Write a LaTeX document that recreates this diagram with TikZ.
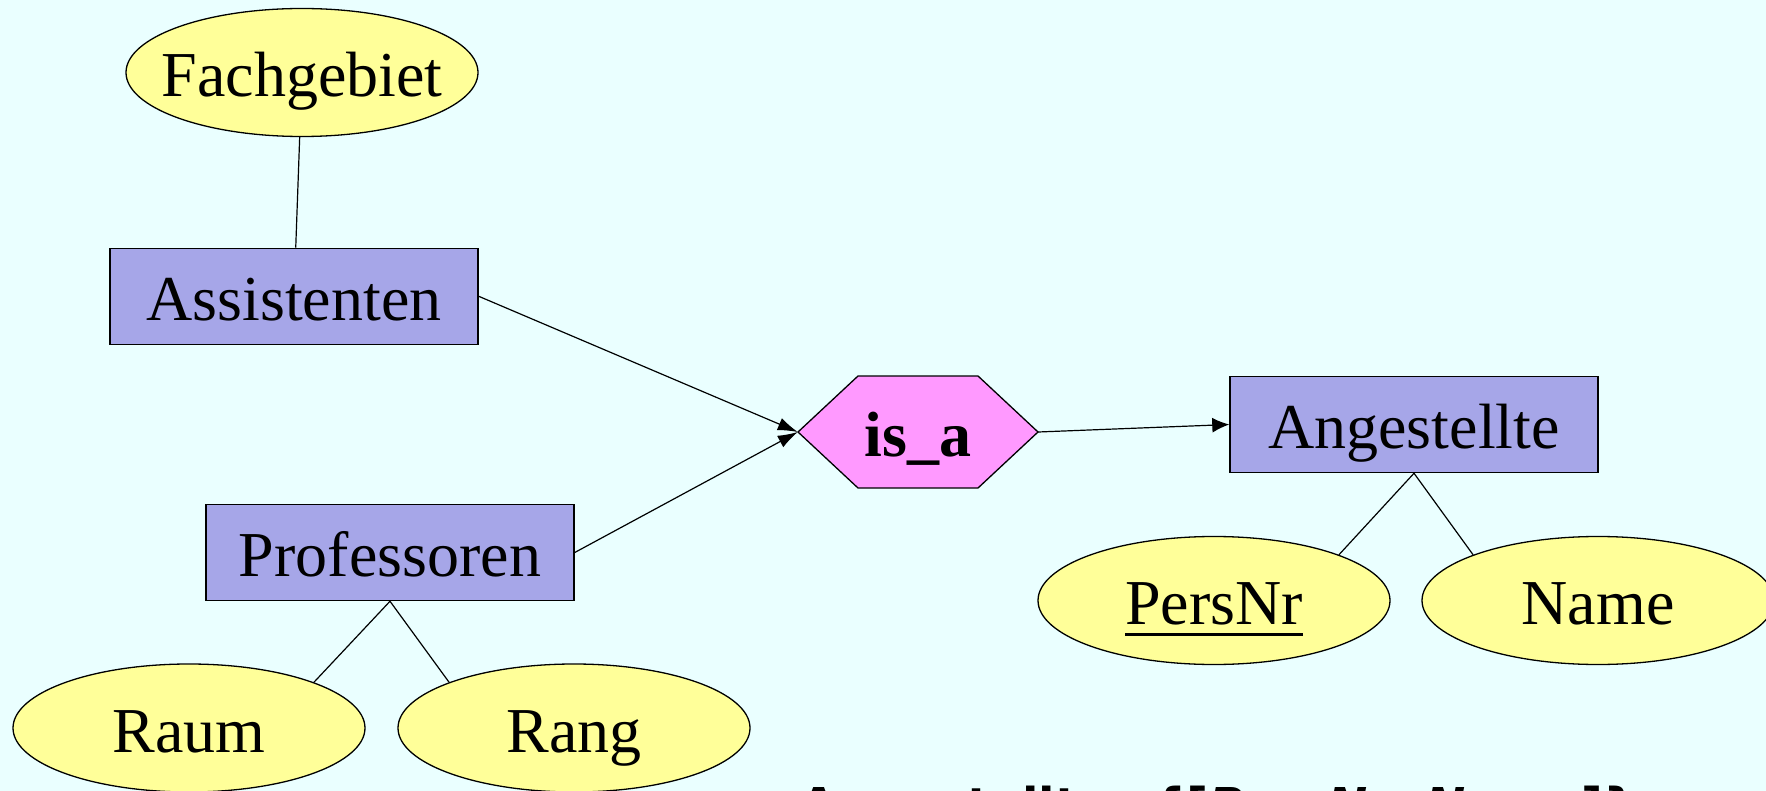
\documentclass[tikz,border=0pt]{standalone}
\usepackage{fontspec}
\setmainfont{Liberation Serif}
\newfontfamily\bottomfont{DejaVu Sans}
\usetikzlibrary{arrows.meta,shapes.geometric}
\definecolor{bgc}{RGB}{234,255,255}
\definecolor{entc}{RGB}{166,166,232}
\definecolor{attc}{RGB}{255,255,153}
\definecolor{relc}{RGB}{255,153,255}
\newcommand{\keyattr}[1]{\setbox0\hbox{#1}\rlap{\rule[-11.7pt]{\wd0}{3.4pt}}\box0}
\begin{document}
\begin{tikzpicture}[x=1pt,y=-1pt,
  every node/.style={font=\fontsize{64pt}{70pt}\selectfont, inner sep=0pt, text height=56pt, text depth=8pt},
  entity/.style={draw=black, line width=1.5pt, fill=entc, rectangle, minimum width=368pt, minimum height=96pt},
  attr/.style={draw=black, line width=1.3pt, fill=attc, ellipse, minimum width=352pt, minimum height=128pt},
  hexrel/.style={draw=black, line width=1.3pt, fill=relc},
  link/.style={line width=1.2pt, draw=black},
  isaarrow/.style={link, -{Latex[length=20pt,width=13pt]}},
  genarrow/.style={link, -{Latex[length=17pt,width=15pt]}}
]
\fill[bgc] (0,0) rectangle (1766,791);
\useasboundingbox (0,0) rectangle (1766,791);
\clip (0,0) rectangle (1766,791);

% entities
\node[entity] (assist) at (294,296.3) {Assistenten};
\node[entity] (prof) at (390,552.5) {Professoren};
\node[entity] (ang) at (1414,424.5) {Angestellte};

% attributes
\node[attr] (fach) at (302,72.5) {\makebox[0pt]{Fachgebiet}};
\node[attr] (raum) at (189,728) {\makebox[0pt]{Raum}};
\node[attr] (rang) at (574,728) {\makebox[0pt]{Rang}};
\node[attr] (pers) at (1214,600.5) {\makebox[0pt]{\keyattr{PersNr}}};
\node[attr] (name) at (1598,600.5) {\makebox[0pt]{Name}};

% is_a relationship
\coordinate (isac) at (918,432);
\filldraw[hexrel] ([xshift=-120pt]isac) -- ([shift={(-60pt,-56pt)}]isac) -- ([shift={(60pt,-56pt)}]isac)
  -- ([xshift=120pt]isac) -- ([shift={(60pt,56pt)}]isac) -- ([shift={(-60pt,56pt)}]isac) -- cycle;
\node[minimum width=240pt, minimum height=112pt] (isa) at (isac) {\bfseries is\_a};

% connectors
\draw[link] (fach) -- (assist);
\draw[isaarrow] (assist.east) -- (isa.west);
\draw[isaarrow] (prof.east) -- (isa.west);
\draw[genarrow] (isa.east) -- (ang.west);
\draw[link] (prof.south) -- (raum.north east);
\draw[link] (prof.south) -- (rang.north west);
\draw[link] (ang.south) -- (pers.north east);
\draw[link] (ang.south) -- (name.north west);

% relational schema (cut off at bottom, as in the original slide)
\node[font=\bottomfont\bfseries\fontsize{48pt}{56pt}\selectfont, anchor=base west] (schema) at (800,822)
  {Angestellte: \{[\textit{PersNr}, \textit{Name}]\}};
\end{tikzpicture}
\end{document}
